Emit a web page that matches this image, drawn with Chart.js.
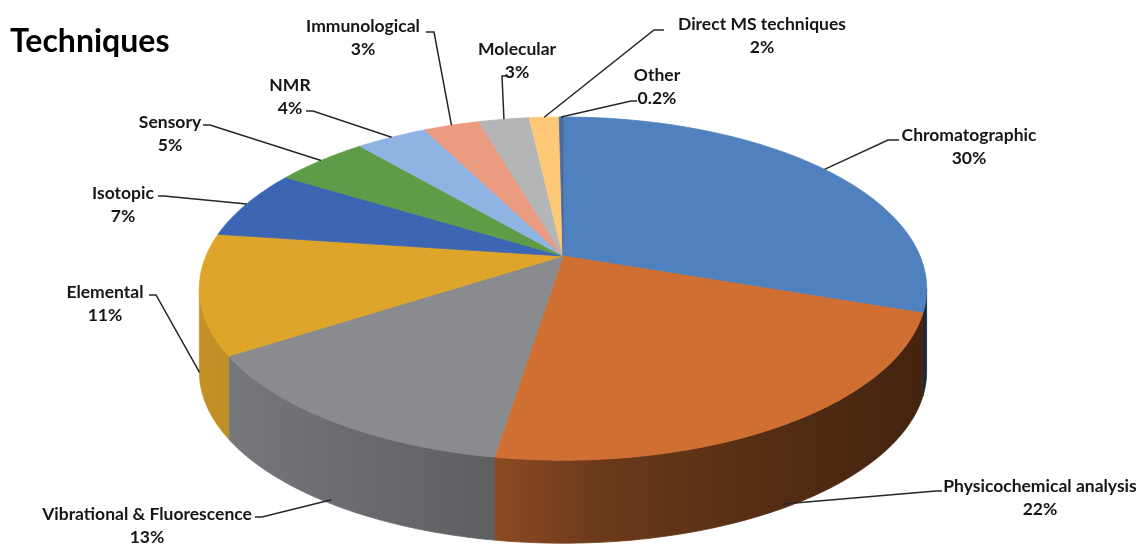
<!DOCTYPE html>
<html><head><meta charset="utf-8">
<script src="https://cdn.jsdelivr.net/npm/chart.js@4/dist/chart.umd.min.js"></script>
<style>html,body{margin:0;padding:0;background:#fff}#wrap{width:1143px;height:544px;position:relative}</style>
</head><body><div id="wrap"><canvas id="c" width="1143" height="544"></canvas></div>
<script>
// ---- data (slice sizes; labels are the printed rounded shares) ----
const categories = ['Chromatographic','Physicochemical analysis','Vibrational & Fluorescence','Elemental','Isotopic','Sensory','NMR','Immunological','Molecular','Direct MS techniques','Other'];
const shares = [30.3,22.3,13.4,11.3,6.6,5.0,3.8,3.0,2.7,1.6,0.2];
const shareLabels = ['30%','22%','13%','11%','7%','5%','4%','3%','3%','2%','0.2%'];

// ---- styles / layout ----
const sliceColors = ['#4e81bd','#d06f32','#898b8f','#dfa52b','#3b66b4','#5e9c48','#8fb4e3','#eb9b7f','#b4b5b7','#fec977','#4a6aa0'];
const labelLayout = [
  {x:969, y:135, ex:888, ey:140, hx:899},
  {x:1040,y:486, ex:936, ey:491, hx:942},
  {x:147, y:514, ex:262, ey:517, hx:255},
  {x:105, y:292, ex:156, ey:295, hx:149},
  {x:123, y:193, ex:164, ey:196, hx:158},
  {x:170, y:122, ex:210, ey:125, hx:203},
  {x:290, y:85,  ex:313, ey:111, hx:306},
  {x:363, y:26,  ex:434, ey:32,  hx:426},
  {x:517, y:49,  ex:502, ey:76,  hx:507},
  {x:762, y:24,  ex:654, ey:30,  hx:664},
  {x:657, y:75,  ex:631, ey:101, hx:637}
];
const G = {CX:563, CY:256, A:357, B:165.4, K:0.19, D:83};
const LABEL_FONT = 'bold 17.5px Lato';

function project(t, dy){
  const u = Math.cos(t), v = Math.sin(t);
  const w = 1 - G.K*v;
  return [G.CX + G.A*u/w, G.CY + G.B*v/w + (dy||0)];
}
function shade(hex, f){
  const n = parseInt(hex.slice(1),16);
  const r = Math.round(((n>>16)&255)*f), g = Math.round(((n>>8)&255)*f), b = Math.round((n&255)*f);
  return 'rgb('+r+','+g+','+b+')';
}
const sideStops = [[0,0.88],[0.4,0.68],[0.55,0.52],[0.8,0.4],[1,0.32]];

const pie3d = {
  id:'pie3d',
  beforeDatasetsDraw(chart){
    const ctx = chart.ctx;
    const arcs = chart.getDatasetMeta(0).data;
    const t1 = Math.asin(G.K), t2 = Math.PI - t1;
    const xl = G.CX - G.A/Math.sqrt(1-G.K*G.K), xr = G.CX + G.A/Math.sqrt(1-G.K*G.K);
    ctx.save();
    // side walls
    arcs.forEach((arc, i) => {
      const a = Math.max(arc.startAngle, t1), b = Math.min(arc.endAngle, t2);
      if (b <= a) return;
      const n = Math.max(4, Math.ceil((b-a)*80));
      ctx.beginPath();
      for (let k=0;k<=n;k++){ const p = project(a+(b-a)*k/n, 0); k?ctx.lineTo(p[0],p[1]):ctx.moveTo(p[0],p[1]); }
      for (let k=n;k>=0;k--){ const p = project(a+(b-a)*k/n, G.D); ctx.lineTo(p[0],p[1]); }
      ctx.closePath();
      const gr = ctx.createLinearGradient(xl,0,xr,0);
      sideStops.forEach(s => gr.addColorStop(s[0], shade(sliceColors[i], s[1])));
      ctx.fillStyle = gr; ctx.strokeStyle = gr; ctx.lineWidth = 0.8;
      ctx.fill(); ctx.stroke();
    });
    // top faces
    arcs.forEach((arc, i) => {
      const a = arc.startAngle, b = arc.endAngle;
      const n = Math.max(2, Math.ceil((b-a)*80));
      ctx.beginPath();
      ctx.moveTo(G.CX, G.CY);
      for (let k=0;k<=n;k++){ const p = project(a+(b-a)*k/n, 0); ctx.lineTo(p[0],p[1]); }
      ctx.closePath();
      ctx.fillStyle = sliceColors[i]; ctx.strokeStyle = sliceColors[i]; ctx.lineWidth = 0.8;
      ctx.fill(); ctx.stroke();
    });
    ctx.restore();
    return false;
  },
  afterDraw(chart){
    const ctx = chart.ctx;
    const arcs = chart.getDatasetMeta(0).data;
    ctx.save();
    arcs.forEach((arc, i) => {
      const L = labelLayout[i];
      const mid = (arc.startAngle + arc.endAngle)/2;
      const onSide = Math.sin(mid) > G.K;
      const p = project(mid, onSide ? G.D*0.95 : 0);
      ctx.beginPath();
      ctx.moveTo(p[0], p[1]);
      ctx.lineTo(L.ex, L.ey);
      ctx.lineTo(L.hx, L.ey);
      ctx.strokeStyle = '#262626'; ctx.lineWidth = 1.5;
      ctx.stroke();
      ctx.fillStyle = '#161616';
      ctx.font = LABEL_FONT;
      ctx.textAlign = 'center'; ctx.textBaseline = 'middle';
      ctx.fillText(chart.data.labels[i], L.x, L.y);
      ctx.fillText(shareLabels[i], L.x, L.y + 23);
    });
    ctx.restore();
  }
};

new Chart(document.getElementById('c'), {
  type:'pie',
  data:{labels:categories, datasets:[{data:shares, backgroundColor:sliceColors, borderWidth:0}]},
  options:{
    responsive:false, animation:false, devicePixelRatio:1,
    layout:{padding:{left:10}},
    events:[],
    plugins:{
      legend:{display:false}, tooltip:{enabled:false},
      title:{display:true, text:'Techniques', align:'start', color:'#000',
        font:{family:'Lato', size:32, weight:'bold'}, padding:{top:22,bottom:0}}
    }
  },
  plugins:[pie3d]
});
</script></body></html>
